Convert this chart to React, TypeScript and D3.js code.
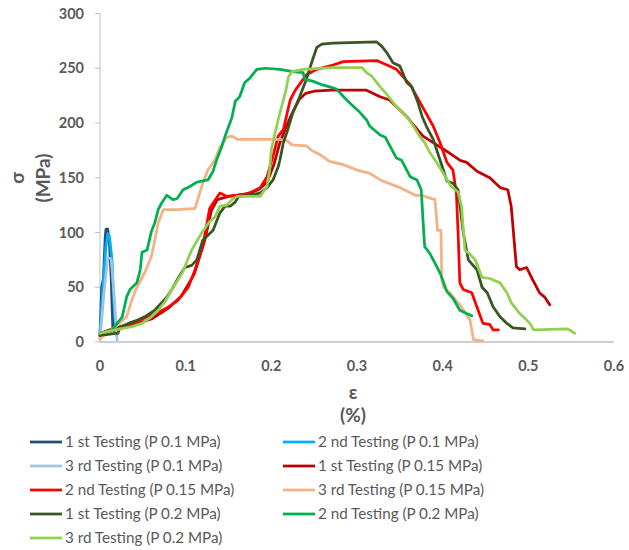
import { useEffect, useRef } from 'react';
import * as d3 from 'd3';

// strain (%) , stress (MPa) pairs
const test1P01 = [[0, 5], [0.002, 50], [0.004, 58], [0.006, 95], [0.007, 103], [0.009, 103], [0.011, 90], [0.013, 60], [0.015, 12], [0.017, 9]];
const test2P01 = [[0, 10], [0.004, 56], [0.007, 88], [0.009, 99], [0.011, 97], [0.014, 75], [0.016, 38], [0.019, 6]];
const test3P01 = [[0, 2], [0.005, 48], [0.009, 77], [0.013, 76], [0.016, 48], [0.02, 2]];
const test1P015 = [[0, 6], [0.02, 12], [0.04, 16], [0.06, 21], [0.08, 31], [0.095, 42], [0.11, 62], [0.122, 92], [0.13, 120], [0.137, 130], [0.15, 133], [0.17, 135], [0.185, 139], [0.195, 146], [0.203, 162], [0.21, 182], [0.218, 198], [0.225, 210], [0.233, 222], [0.24, 227], [0.25, 229], [0.27, 230], [0.311, 230], [0.327, 224], [0.338, 221], [0.358, 206], [0.364, 200], [0.377, 188], [0.389, 182], [0.405, 174], [0.42, 166], [0.428, 164], [0.44, 156], [0.455, 150], [0.467, 141], [0.476, 139], [0.48, 124], [0.486, 69], [0.49, 66], [0.498, 68], [0.505, 57], [0.513, 45], [0.519, 41], [0.525, 34]];
const test2P015 = [[0, 8], [0.018, 13], [0.037, 17], [0.052, 22], [0.068, 27], [0.08, 32], [0.091, 38], [0.103, 50], [0.111, 66], [0.12, 88], [0.128, 122], [0.133, 128], [0.14, 136], [0.148, 133], [0.16, 134], [0.175, 136], [0.187, 141], [0.195, 151], [0.202, 170], [0.208, 188], [0.214, 194], [0.222, 221], [0.228, 230], [0.241, 244], [0.253, 249], [0.272, 253], [0.284, 256], [0.323, 257], [0.335, 253], [0.346, 249], [0.362, 235], [0.377, 214], [0.389, 197], [0.397, 182], [0.405, 164], [0.412, 157], [0.416, 136], [0.418, 100], [0.42, 54], [0.424, 48], [0.434, 45], [0.44, 32], [0.447, 17], [0.455, 16], [0.459, 11], [0.465, 11]];
const test3P015 = [[0, 3], [0.018, 14], [0.031, 23], [0.037, 38], [0.043, 50], [0.052, 63], [0.06, 78], [0.064, 93], [0.068, 109], [0.074, 121], [0.09, 121], [0.111, 122], [0.114, 130], [0.12, 145], [0.126, 157], [0.134, 166], [0.14, 178], [0.148, 187], [0.154, 188], [0.161, 185], [0.21, 185], [0.218, 184], [0.224, 180], [0.241, 179], [0.247, 175], [0.257, 171], [0.268, 165], [0.284, 162], [0.3, 157], [0.315, 154], [0.327, 148], [0.35, 141], [0.368, 134], [0.375, 134], [0.391, 130], [0.394, 102], [0.398, 102], [0.399, 57], [0.401, 50], [0.408, 45], [0.42, 34], [0.432, 20], [0.436, 2], [0.447, 1]];
const test1P02 = [[0, 6], [0.021, 8], [0.023, 13], [0.033, 17], [0.044, 20], [0.052, 23], [0.064, 29], [0.072, 36], [0.078, 41], [0.084, 48], [0.091, 58], [0.099, 68], [0.107, 70], [0.113, 75], [0.12, 93], [0.132, 102], [0.14, 118], [0.146, 124], [0.152, 124], [0.158, 128], [0.162, 133], [0.171, 134], [0.187, 136], [0.195, 141], [0.202, 148], [0.208, 160], [0.21, 166], [0.214, 182], [0.218, 191], [0.225, 209], [0.233, 224], [0.241, 240], [0.247, 255], [0.253, 269], [0.259, 272], [0.272, 273], [0.323, 274], [0.329, 270], [0.335, 264], [0.342, 255], [0.35, 252], [0.358, 237], [0.364, 233], [0.371, 219], [0.376, 206], [0.381, 197], [0.389, 185], [0.397, 166], [0.405, 147], [0.412, 145], [0.418, 139], [0.424, 100], [0.43, 75], [0.44, 66], [0.446, 50], [0.452, 45], [0.459, 32], [0.467, 23], [0.475, 17], [0.482, 13], [0.496, 12]];
const test2P02 = [[0, 8], [0.014, 11], [0.026, 23], [0.031, 41], [0.035, 48], [0.043, 54], [0.047, 66], [0.049, 82], [0.055, 84], [0.06, 101], [0.064, 109], [0.068, 121], [0.072, 127], [0.078, 134], [0.085, 130], [0.09, 131], [0.097, 139], [0.105, 142], [0.113, 146], [0.126, 148], [0.132, 156], [0.136, 166], [0.142, 178], [0.146, 188], [0.154, 205], [0.158, 220], [0.163, 224], [0.169, 237], [0.175, 241], [0.183, 249], [0.193, 250], [0.21, 249], [0.225, 247], [0.237, 246], [0.239, 240], [0.249, 238], [0.259, 235], [0.268, 233], [0.276, 231], [0.288, 221], [0.296, 215], [0.303, 210], [0.311, 203], [0.315, 197], [0.327, 189], [0.333, 187], [0.346, 168], [0.352, 166], [0.362, 151], [0.37, 148], [0.375, 139], [0.377, 112], [0.379, 87], [0.385, 81], [0.397, 63], [0.405, 46], [0.412, 40], [0.42, 29], [0.428, 26], [0.434, 24]];
const test3P02 = [[0, 8], [0.018, 11], [0.037, 14], [0.049, 17], [0.06, 23], [0.068, 29], [0.076, 37], [0.084, 48], [0.096, 63], [0.107, 84], [0.119, 100], [0.128, 110], [0.134, 114], [0.14, 124], [0.148, 125], [0.154, 130], [0.16, 133], [0.187, 133], [0.195, 142], [0.198, 157], [0.2, 176], [0.204, 190], [0.208, 203], [0.214, 221], [0.217, 230], [0.22, 242], [0.224, 247], [0.237, 249], [0.272, 250.5], [0.306, 250.5], [0.311, 246], [0.317, 243], [0.327, 233], [0.335, 226], [0.346, 215], [0.358, 206], [0.366, 197], [0.373, 188], [0.379, 182], [0.385, 173], [0.393, 164], [0.4, 155], [0.41, 142], [0.418, 137], [0.422, 124], [0.426, 84], [0.432, 80], [0.438, 75], [0.446, 59], [0.455, 58], [0.467, 54], [0.475, 45], [0.48, 36], [0.49, 26], [0.498, 20], [0.502, 17], [0.506, 11], [0.545, 12], [0.548, 11], [0.554, 8]];

const seriesNames = [
  '1 st Testing (P 0.1 MPa)', '2 nd Testing (P 0.1 MPa)', '3 rd Testing (P 0.1 MPa)',
  '1 st Testing (P 0.15 MPa)', '2 nd Testing (P 0.15 MPa)', '3 rd Testing (P 0.15 MPa)',
  '1 st Testing (P 0.2 MPa)', '2 nd Testing (P 0.2 MPa)', '3 rd Testing (P 0.2 MPa)',
];
const seriesData = [test1P01, test2P01, test3P01, test1P015, test2P015, test3P015, test1P02, test2P02, test3P02];
const seriesColors = ['#1f4e79', '#00b0f0', '#9dc3e6', '#c00000', '#ff0000', '#f4b183', '#375623', '#00b050', '#92d050'];

const xTicks = [0, 0.1, 0.2, 0.3, 0.4, 0.5, 0.6];
const yTicks = [0, 50, 100, 150, 200, 250, 300];

const App = () => {
  const svgRef = useRef(null);

  useEffect(() => {
    const svg = d3.select(svgRef.current);
    svg.selectAll('*').remove();

    const x = d3.scaleLinear().domain([0, 0.6]).range([100, 614]);
    const y = d3.scaleLinear().domain([0, 300]).range([342, 13.5]);
    const font = 'Lato, "Open Sans", sans-serif';
    const grey = '#595959';

    // axis lines
    svg.append('line').attr('x1', 100).attr('x2', 100).attr('y1', y(300)).attr('y2', y(0))
      .attr('stroke', '#bfbfbf').attr('stroke-width', 1);
    svg.append('line').attr('x1', 100).attr('x2', x(0.6)).attr('y1', y(0)).attr('y2', y(0))
      .attr('stroke', '#bfbfbf').attr('stroke-width', 1.3);

    // y ticks
    svg.selectAll('.ytick').data(yTicks).enter().append('line')
      .attr('x1', 95).attr('x2', 100).attr('y1', d => y(d)).attr('y2', d => y(d))
      .attr('stroke', '#bfbfbf');
    svg.selectAll('.ylab').data(yTicks).enter().append('text')
      .attr('x', 84).attr('y', d => y(d)).attr('dy', '0.35em')
      .attr('text-anchor', 'end').attr('font-family', font).attr('font-weight', 'bold')
      .attr('font-size', 14.5).attr('fill', grey).text(d => d);
    svg.selectAll('.xlab').data(xTicks).enter().append('text')
      .attr('x', d => x(d)).attr('y', 366).attr('dy', '0.35em')
      .attr('text-anchor', 'middle').attr('font-family', font).attr('font-weight', 'bold')
      .attr('font-size', 14.5).attr('fill', grey).text(d => d);

    // axis titles
    svg.append('text').attr('x', 353).attr('y', 392).attr('dy', '0.35em').attr('text-anchor', 'middle')
      .attr('font-family', font).attr('font-weight', 'bold').attr('font-size', 19).attr('fill', grey).text('ε');
    svg.append('text').attr('x', 353).attr('y', 415).attr('dy', '0.35em').attr('text-anchor', 'middle')
      .attr('font-family', font).attr('font-weight', 'bold').attr('font-size', 19).attr('fill', grey).text('(%)');
    const yt = svg.append('g').attr('transform', 'translate(0,178) rotate(-90)');
    yt.append('text').attr('x', 0).attr('y', 17).attr('dy', '0.35em').attr('text-anchor', 'middle')
      .attr('font-family', font).attr('font-weight', 'bold').attr('font-size', 19).attr('fill', grey).text('σ');
    yt.append('text').attr('x', 0).attr('y', 43).attr('dy', '0.35em').attr('text-anchor', 'middle')
      .attr('font-family', font).attr('font-weight', 'bold').attr('font-size', 19).attr('fill', grey).text('(MPa)');

    // lines
    const line = d3.line().x(d => x(d[0])).y(d => y(d[1]));
    seriesData.forEach((s, i) => {
      svg.append('path').datum(s).attr('d', line).attr('fill', 'none')
        .attr('stroke', seriesColors[i]).attr('stroke-width', 2.75)
        .attr('stroke-linejoin', 'round').attr('stroke-linecap', 'round');
    });

    // legend
    const lg = svg.selectAll('.leg').data(seriesNames).enter().append('g')
      .attr('transform', (d, i) => `translate(${i % 2 === 0 ? 30 : 283},${442 + Math.floor(i / 2) * 24})`);
    lg.append('line').attr('x1', 0).attr('x2', 32).attr('y1', 0).attr('y2', 0)
      .attr('stroke', (d, i) => seriesColors[i]).attr('stroke-width', 2.75);
    lg.append('text').attr('x', 35).attr('y', 0).attr('dy', '0.35em')
      .attr('font-family', font).attr('font-size', 15.2).attr('fill', grey).text(d => d);
  }, []);

  return (
    <svg ref={svgRef} width={629} height={550}
      style={{ position: 'absolute', left: 0, top: 0, background: '#fff' }} />
  );
};

export default App;
